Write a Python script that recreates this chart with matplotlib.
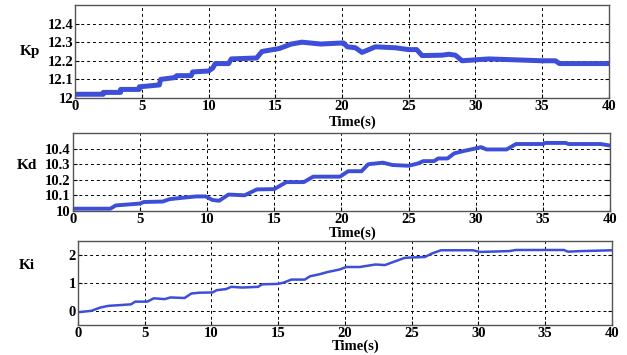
import numpy as np
import matplotlib.pyplot as plt

plt.rcParams['font.family'] = ['Liberation Serif', 'DejaVu Serif']
plt.rcParams['font.weight'] = 'bold'

# Kp gain vs time
t_kp = [0, 2.1, 2.1, 3.4, 3.4, 4.8, 4.8, 6.3, 6.4, 7.5, 7.6, 8.7, 8.8, 10.0, 10.3, 10.5,
        11.5, 11.7, 13.6, 14.0, 15.3, 16.2, 17.0, 18.4, 20.1, 20.4, 21.0, 21.5, 22.5,
        24.0, 25.0, 25.6, 26.0, 27.5, 28.0, 28.5, 29.0, 30.0, 31.0, 35.0, 36.0, 36.3, 40]
kp = [12.02, 12.02, 12.03, 12.03, 12.046, 12.046, 12.06, 12.07, 12.10, 12.11, 12.12, 12.12,
      12.14, 12.145, 12.16, 12.185, 12.185, 12.21, 12.215, 12.25, 12.266, 12.29, 12.30,
      12.29, 12.296, 12.275, 12.27, 12.245, 12.275, 12.27, 12.26, 12.26, 12.228, 12.23,
      12.235, 12.23, 12.20, 12.205, 12.21, 12.2, 12.2, 12.185, 12.185]

# Kd gain vs time
t_kd = [0, 2.8, 3.2, 5.0, 5.3, 6.7, 7.2, 7.7, 9.2, 9.9, 10.4, 10.9, 11.6, 12.8, 13.7,
        15.0, 15.9, 17.2, 17.9, 19.9, 20.5, 21.5, 22.0, 23.1, 23.8, 25.0, 25.7, 26.1,
        26.9, 27.2, 27.9, 28.4, 29.1, 29.9, 30.4, 30.8, 32.3, 33.0, 35.0, 35.2, 36.7,
        36.9, 39.3, 40]
kd = [10.014, 10.014, 10.035, 10.047, 10.057, 10.06, 10.075, 10.08, 10.093, 10.093, 10.07,
      10.065, 10.105, 10.1, 10.138, 10.14, 10.185, 10.185, 10.22, 10.22, 10.255, 10.255,
      10.30, 10.31, 10.295, 10.29, 10.305, 10.32, 10.32, 10.337, 10.337, 10.37, 10.385,
      10.40, 10.41, 10.395, 10.395, 10.43, 10.43, 10.437, 10.437, 10.43, 10.43, 10.42]

# Ki gain vs time
t_ki = [0, 1.0, 1.7, 2.3, 3.3, 4.0, 4.3, 5.2, 5.7, 6.5, 6.95, 8.0, 8.5, 9.1, 10.1, 10.4,
        11.1, 11.5, 12.3, 13.5, 13.8, 15.0, 15.4, 16.0, 17.0, 17.4, 18.1, 18.7, 19.6,
        20.1, 21.1, 22.3, 23.0, 23.8, 24.5, 26.0, 26.5, 27.2, 29.6, 30.1, 32.3, 32.8,
        36.4, 36.7, 37.7, 40]
ki = [-0.05, 0.0, 0.12, 0.18, 0.21, 0.235, 0.33, 0.33, 0.45, 0.42, 0.48, 0.46, 0.62, 0.65,
      0.66, 0.74, 0.78, 0.86, 0.835, 0.86, 0.95, 0.965, 1.01, 1.12, 1.12, 1.24, 1.31, 1.39,
      1.48, 1.57, 1.57, 1.66, 1.64, 1.78, 1.90, 1.93, 2.05, 2.17, 2.17, 2.11, 2.14, 2.18,
      2.18, 2.12, 2.14, 2.17]

fig = plt.figure(figsize=(6.27, 3.55), dpi=100)

panels = [
    (t_kp, kp, 'Kp', [0.120, 0.724, 0.851, 0.262], (12, 12.5), [12, 12.1, 12.2, 12.3, 12.4],
     ['12', '12.1', '12.2', '12.3', '12.4'], 3.6, (-0.085, 0.43), -0.19),
    (t_kd, kd, 'Kd', [0.116, 0.406, 0.857, 0.219], (10, 10.5), [10, 10.1, 10.2, 10.3, 10.4],
     ['10', '10.1', '10.2', '10.3', '10.4'], 2.8, (-0.085, 0.5), -0.205),
    (t_ki, ki, 'Ki', [0.124, 0.085, 0.852, 0.236], (-0.5, 2.5), [0, 1, 2],
     ['0', '1', '2'], 1.8, (-0.095, 0.63), -0.175),
]

for t, v, name, pos, ylim, yt, ytl, lw, lab, xl in panels:
    ax = fig.add_axes(pos)
    ax.plot(t, v, color='#3d4fd8', lw=lw, solid_joinstyle='round')
    ax.set_xlim(0, 40)
    ax.set_ylim(*ylim)
    ax.set_xticks(range(0, 41, 5))
    ax.set_yticks(yt)
    ax.set_yticklabels(ytl)
    ax.grid(True, color='black', linestyle=(0, (3, 3)), linewidth=0.7)
    ax.tick_params(direction='in', length=3, right=True, top=False, labelsize=10.5, pad=1.5)
    for lbl in ax.get_xticklabels() + ax.get_yticklabels():
        lbl.set_fontweight('bold')
    for sp in ax.spines.values():
        sp.set_color('#555555')
        sp.set_linewidth(1.0)
    ax.set_ylabel(name, rotation=0, fontsize=11, fontweight='bold')
    ax.yaxis.set_label_coords(*lab)
    ax.set_xlabel('Time(s)', fontsize=10.5, fontweight='bold')
    ax.xaxis.set_label_coords(0.52, xl)

fig.savefig('out.png', dpi=100, facecolor='white')
